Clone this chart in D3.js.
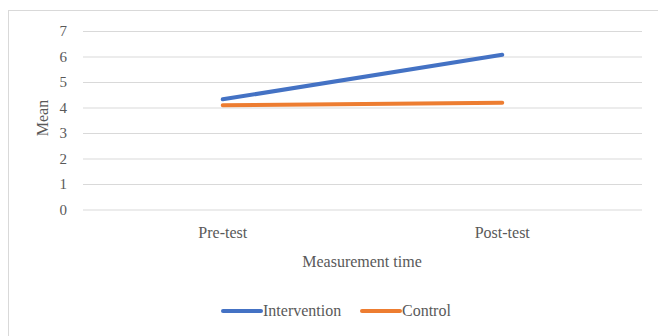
<!DOCTYPE html>
<html><head><meta charset="utf-8">
<script src="https://cdn.jsdelivr.net/npm/d3@7"></script>
<style>body{margin:0;background:#fff}svg{display:block}text{font-family:"Liberation Serif","DejaVu Serif",serif;fill:#595959}</style>
</head><body><svg id="c" width="658" height="336"></svg>
<script>
const categories = ["Pre-test", "Post-test"];
const intervention = [4.32, 6.07];
const control = [4.09, 4.19];
const seriesNames = ["Intervention", "Control"];
const yTicks = [0,1,2,3,4,5,6,7];
const colors = ["#4472C4", "#ED7D31"];

const svg = d3.select("#c");
svg.append("rect").attr("x",8.5).attr("y",10.5).attr("width",660).attr("height",340)
  .attr("fill","#fff").attr("stroke","#d9d9d9");
const L=83, R=642, T=31, B=209.5;
const x = d3.scaleBand().domain(categories).range([L,R]);
const y = d3.scaleLinear().domain([0,7]).range([B,T]);

const yAxis = svg.append("g").attr("transform",`translate(${L},0)`)
  .call(d3.axisLeft(y).tickValues(yTicks).tickFormat(d3.format("d")).tickSize(-(R-L)).tickPadding(16));
yAxis.select(".domain").remove();
yAxis.selectAll("line").attr("stroke","#d9d9d9").attr("stroke-width",1);
yAxis.selectAll("text").style("font-size","15px").attr("fill","#595959");

const xAxis = svg.append("g").attr("transform",`translate(0,${B})`)
  .call(d3.axisBottom(x).tickSize(0).tickPadding(17));
xAxis.select(".domain").remove();
xAxis.selectAll("text").style("font-size","16px").attr("fill","#595959");

svg.append("text").attr("transform",`translate(48,118) rotate(-90)`).attr("text-anchor","middle")
  .style("font-size","16px").text("Mean");
svg.append("text").attr("x",362).attr("y",267).attr("text-anchor","middle")
  .style("font-size","16px").text("Measurement time");

const line = d3.line().x((d,i)=>x(categories[i])+x.bandwidth()/2).y(d=>y(d));
[intervention, control].forEach((s,i)=>{
  svg.append("path").datum(s).attr("d",line).attr("fill","none")
    .attr("stroke",colors[i]).attr("stroke-width",4).attr("stroke-linecap","round");
});

const legX = [223, 362];
seriesNames.forEach((n,i)=>{
  svg.append("line").attr("x1",legX[i]).attr("x2",legX[i]+38).attr("y1",311).attr("y2",311)
    .attr("stroke",colors[i]).attr("stroke-width",4).attr("stroke-linecap","round");
  svg.append("text").attr("x",legX[i]+40).attr("y",316).style("font-size","16px").text(n);
});
</script></body></html>
